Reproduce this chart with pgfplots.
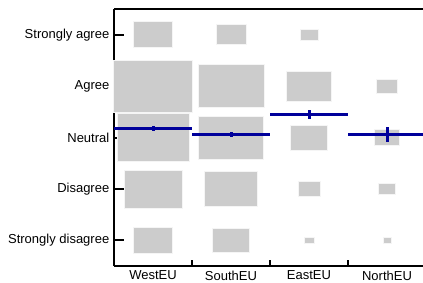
\documentclass[border=0pt]{standalone}
\usepackage{pgfplots}
\pgfplotsset{compat=1.18}
\usepackage{pgfplotstable}
\usepackage{fontspec}
\setmainfont{Liberation Sans}
\usetikzlibrary{calc}
\definecolor{boxgray}{RGB}{204,204,204}
\definecolor{meanblue}{RGB}{0,0,155}

\pgfplotstableread{
x y s
1 5 0.505
1 4 1.01
1 3 0.925
1 2 0.74
1 1 0.495
2 5 0.385
2 4 0.845
2 3 0.84
2 2 0.68
2 1 0.466
3 5 0.228
3 4 0.575
3 3 0.48
3 2 0.285
3 1 0.13
4 4 0.277
4 3 0.313
4 2 0.225
4 1 0.10
}\freqtable

\pgfplotstableread{
x m e
1 3.18 0.045
2 3.06 0.05
3 3.45 0.09
4 3.055 0.15
}\meantable

\begin{document}
\begin{tikzpicture}
\begin{axis}[
  name=ax,
  set layers,
  scale only axis,
  width=234pt, height=192.75pt,
  xmin=0.5, xmax=4.5, ymin=0.5, ymax=5.5,
  axis x line*=box, axis y line*=left,
  axis line style={line width=1.5pt, black},
  tick pos=left,
  tick align=inside,
  major tick length=7.5pt,
  every tick/.style={black, line width=1.5pt},
  ytick={1,2,3,4,5},
  yticklabels={Strongly disagree,Disagree,Neutral,Agree,Strongly agree},
  xtick={1,2,3,4},
  xticklabels={WestEU,SouthEU,EastEU,NorthEU},
  x tick style={draw=none},
  extra x ticks={1.5,2.5,3.5,4.5},
  extra x tick labels={,,,},
  extra x tick style={major tick length=4.5pt, x tick style={draw=black}},
  tick label style={font=\fontsize{9.75}{11}\selectfont},
]
\addplot[scatter, only marks, mark=none,
  visualization depends on={\thisrow{s}/2 \as \hs},
  scatter/@pre marker code/.code={%
    \fill[boxgray, draw=white!80!boxgray, line width=0.5pt]
      (axis direction cs:-\hs,-\hs) rectangle (axis direction cs:\hs,\hs);
  },
  scatter/@post marker code/.code={}]
  table[x=x, y=y] {\freqtable};

\addplot[on layer=axis foreground, only marks, mark=square*, mark size=0.9pt, black,
  error bars/.cd,
    x dir=both, x fixed=0.5,
    y dir=both, y explicit,
    error mark=none,
    error bar style={line width=2.25pt, color=meanblue}]
  table[x=x, y=m, y error=e] {\meantable};
\end{axis}
\pgfresetboundingbox
\path ($(ax.south west)+(-85.5pt,-12pt)$) rectangle ($(ax.north east)+(-2.25pt,6.75pt)$);
\end{tikzpicture}
\end{document}
